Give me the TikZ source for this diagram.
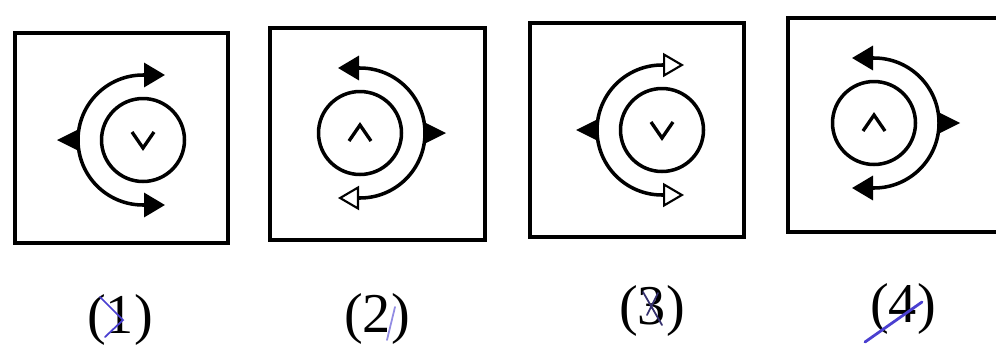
\documentclass[tikz,border=0pt]{standalone}
\usepackage{fontspec}
\setmainfont{Liberation Serif}
\usetikzlibrary{arrows.meta}
\definecolor{ink}{HTML}{4A3FD0}
\definecolor{darkink}{HTML}{35306E}
\tikzset{
  frame/.style={draw,line width=2.6pt,inner sep=0pt},
  ring/.style={circle,draw,line width=2pt,minimum size=1.66cm,inner sep=0pt},
  swing/.style={line width=2pt},
  chev/.style={line width=1.9pt,line join=miter},
  scrib/.style={line width=1pt,line cap=round,ink},
  lbl/.style={font=\fontsize{32}{36}\selectfont},
  solidhead/.tip={Triangle[length=4.2mm,width=4.8mm]},
  hollowhead/.tip={Triangle[open,length=4.2mm,width=4.8mm,line width=1.2pt,fill=white]}
}

\begin{document}
\begin{tikzpicture}[x=0.02cm,y=0.02cm]
    \tikzset{pics/lswing/.style={code={
        \draw[swing,#1] (22,65) -- (0,65) arc[start angle=90,end angle=270,radius=65] -- (22,-65);
        \fill (-64,11) -- (-86,0) -- (-64,-11) -- cycle;}},
             pics/rswing/.style={code={
        \draw[swing,#1] (-22,65) -- (0,65) arc[start angle=90,end angle=-90,radius=65] -- (-22,-65);
        \fill (64,11) -- (86,0) -- (64,-11) -- cycle;}},
             vee/.pic={\draw[chev] (-11,8) -- (0,-8) -- (11,8);},
             hat/.pic={\draw[chev] (-11,-8) -- (0,8) -- (11,-8);}}
    \useasboundingbox (0,0) rectangle (996,346);
    % frames
    \node[frame,minimum width=4.26cm,minimum height=4.2cm]  (f1) at (121.5,208) {};
    \node[frame,minimum width=4.3cm,minimum height=4.24cm]  (f2) at (377.5,212) {};
    \node[frame,minimum width=4.28cm,minimum height=4.28cm] (f3) at (637,216) {};
    \node[frame,minimum width=4.28cm,minimum height=4.28cm] (f4) at (895,221) {};
    % dials
    \node[ring] (r1) at (143,206) {};
    \node[ring] (r2) at (360,213) {};
    \node[ring] (r3) at (662,216) {};
    \node[ring] (r4) at (874,223) {};
    \pic at (r1) {vee};
    \pic at (r2) {hat};
    \pic at (r3) {vee};
    \pic at (r4) {hat};
    \pic at (r1) {lswing={solidhead-solidhead}};
    \pic at (r2) {rswing={solidhead-hollowhead}};
    \pic at (r3) {lswing={hollowhead-hollowhead}};
    \pic at (r4) {rswing={solidhead-solidhead}};
    % captions
    \node[lbl] (n1) at (120,26) {(1)};
    \node[lbl] (n2) at (377,27) {(2)};
    \node[lbl] (n3) at (652,35) {(3)};
    \node[lbl] (n4) at (903,37) {(4)};
    % pen marks
    \draw[scrib] (100,49) -- (123,26) -- (105,9);
    \draw[scrib,ink!60] (395,39) -- (387,6);
    \draw[scrib,darkink] (643,54) -- (662,21) (658,53) -- (647,31);
    \draw[scrib,line width=1.6pt] (865,4) -- (922,44);
  \end{tikzpicture}
\end{document}
